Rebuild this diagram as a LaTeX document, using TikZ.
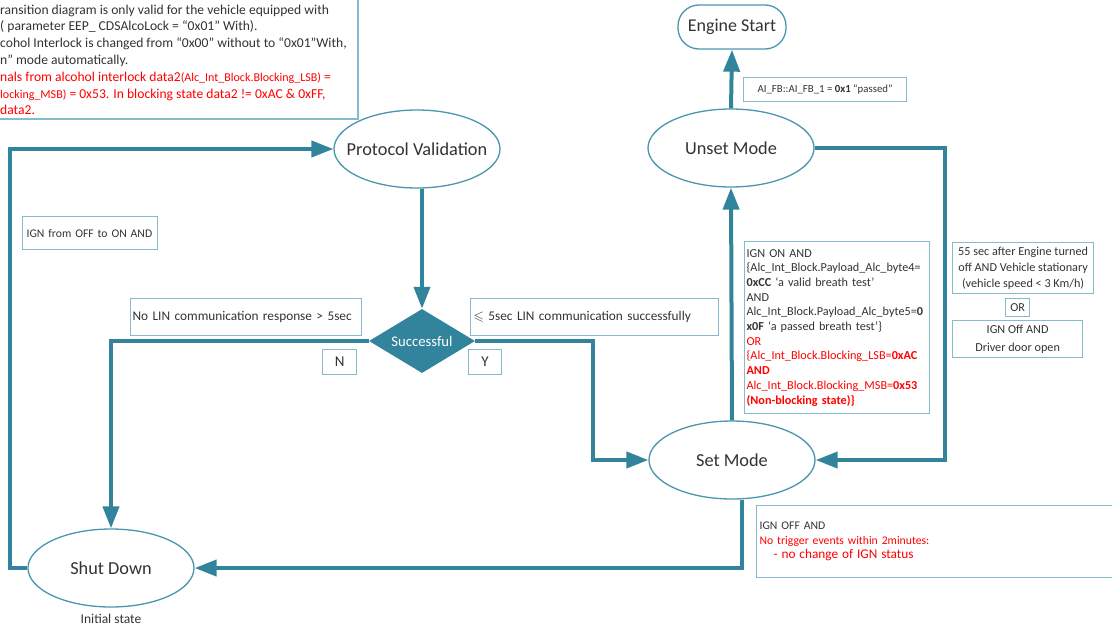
\documentclass[tikz,border=0pt]{standalone}
\usepackage{fontspec}
\usepackage{amssymb}
\setmainfont{Carlito}
\usetikzlibrary{shapes.geometric,arrows.meta,positioning}
\definecolor{flowc}{HTML}{31849B}
\definecolor{rimc}{HTML}{4A96AE}
\definecolor{boxc}{HTML}{86BBCC}
\definecolor{inkc}{HTML}{333333}
\definecolor{redc}{HTML}{FF0000}
\newcommand{\statetext}[1]{\makebox[0pt]{#1}}
\tikzset{
  state/.style={ellipse,draw=rimc,line width=1.3pt,fill=white,minimum width=166pt,minimum height=78pt,inner sep=0pt,text=inkc,font=\fontsize{18.3}{21}\selectfont},
  flow/.style={draw=flowc,line width=4pt,-{Triangle[length=22pt,width=16pt]}},
  cond/.style={draw=boxc,line width=1.2pt,anchor=north west,inner sep=3pt,text=inkc,font=\fontsize{12.2}{14.7}\selectfont},
}
\begin{document}
\begin{tikzpicture}[x=1pt,y=-1pt]
\useasboundingbox (0,0) rectangle (1112,627);
\draw[boxc,line width=1.2pt] (-5,-5) rectangle (358,119);
\node[anchor=north west,inner sep=0pt,align=left,text=inkc,font=\fontsize{13.6}{16.8}\selectfont] (note) at (0,4.5) {%
ransition diagram is only valid for the vehicle equipped with\\
( parameter EEP\_ CDSAlcoLock = “0x01" With).\\
cohol Interlock is changed from “0x00" without to “0x01"With,\\
n" mode automatically.\\
\textcolor{redc}{nals from alcohol interlock data2{\fontsize{12}{12}\selectfont(Alc\_Int\_Block.Blocking\_LSB)} =}\\
\textcolor{redc}{{\fontsize{12}{12}\selectfont locking\_MSB)} = 0x53. In blocking state data2 != 0xAC \& 0xFF,}\\
\textcolor{redc}{data2.}};

\node[draw=rimc,line width=1.3pt,rounded corners=21pt,minimum width=108pt,minimum height=44pt,text=inkc,font=\fontsize{18}{21}\selectfont] (engine) at (732,27) {Engine Start};
\node[state] (proto) at (417,149) {\statetext{Protocol Validation}};
\node[state] (unset) at (731,148) {\statetext{Unset Mode}};
\node[state] (setm) at (732,460) {\statetext{Set Mode}};
\node[state] (shut) at (111,568) {\statetext{Shut Down}};
\node[text=inkc,font=\fontsize{13.5}{15}\selectfont] (init) at (111,619) {Initial state};
\node[diamond,fill=flowc,minimum width=106pt,minimum height=64pt,inner sep=0pt,aspect=1.6,text=white,font=\fontsize{14.7}{16}\selectfont] (succ) at (422,341) {Successful};

\draw[flow] (shut.west) -- ++(-17,0) |- (proto.west);
\draw[flow] (proto.south -| succ.north) -- (succ.north);
\draw[flow] (succ.west) -| (shut.north);
\draw[flow] (succ.east) -- ++(118,0) |- (setm.west);
\draw[flow] (setm.north) -- (unset.south);
\draw[flow] (unset.east) -- ++(130,0) |- (setm.east);
\draw[flow] ([xshift=10pt]setm.south) |- (shut.east);
\draw[flow] (unset.north) -- (engine.south);

\node[cond,minimum width=163pt,minimum height=24pt,font=\fontsize{10.8}{12}\selectfont] (fbc) at (743,77) {AI\_FB::AI\_FB\_1 = \textbf{0x1} “passed”};
\node[cond,text width=127pt,inner xsep=4pt,minimum height=33pt,align=left,font=\fontsize{11.7}{13}\selectfont] (ignc) at (22,216) {IGN from OFF to ON AND};
\node[cond,text width=227pt,inner xsep=2pt,minimum height=37pt,align=left,font=\fontsize{13.3}{15}\selectfont] (nolin) at (130,298) {No LIN communication response > 5sec};
\node[cond,text width=242pt,minimum height=37pt,align=left,font=\fontsize{13.3}{15}\selectfont] (lin) at (470,298) {\ensuremath{\leqslant} 5sec LIN communication successfully};
\node[cond,minimum width=34pt,minimum height=25pt,inner sep=0pt,font=\fontsize{15}{16}\selectfont] (nbox) at (322,349) {N};
\node[cond,minimum width=33pt,minimum height=25pt,inner sep=0pt,font=\fontsize{15}{16}\selectfont] (ybox) at (468,349) {Y};

\node[cond,text width=181pt,inner xsep=2pt,minimum height=172pt,align=left] (setc) at (744,241) {%
IGN ON AND\\
\{Alc\_Int\_Block.Payload\_Alc\_byte4=\\
\textbf{0xCC} ‘a valid breath test’\\
AND\\
Alc\_Int\_Block.Payload\_Alc\_byte5=\textbf{0}\\
\textbf{x0F} ‘a passed breath test’\}\\
\textcolor{redc}{OR}\\
\textcolor{redc}{\{Alc\_Int\_Block.Blocking\_LSB=\textbf{0xAC}}\\
\textcolor{redc}{\textbf{AND}}\\
\textcolor{redc}{Alc\_Int\_Block.Blocking\_MSB=\textbf{0x53}}\\
\textcolor{redc}{\textbf{(Non-blocking state)\}}}};
\node[cond,minimum width=141pt,minimum height=51pt,align=center,font=\fontsize{12.2}{16}\selectfont] (speedc) at (952,242) {55 sec after Engine turned\\off AND Vehicle stationary\\(vehicle speed < 3 Km/h)};
\node[cond,minimum width=24pt,minimum height=18pt,inner sep=0pt] (orbox) at (1005,298) {OR};
\node[cond,minimum width=130pt,minimum height=37pt,align=center,font=\fontsize{12.2}{18}\selectfont] (doorc) at (952,320) {IGN Off AND\\Driver door open};
\node[cond,text width=394pt,minimum height=72pt,align=left,font=\fontsize{11.7}{14.7}\selectfont] (offc) at (756,505) {%
IGN OFF AND\\
\textcolor{redc}{No trigger events within 2minutes:}\\
\textcolor{redc}{\fontsize{13.3}{16}\selectfont\hspace{14pt}- no change of IGN status}};
\end{tikzpicture}
\end{document}
